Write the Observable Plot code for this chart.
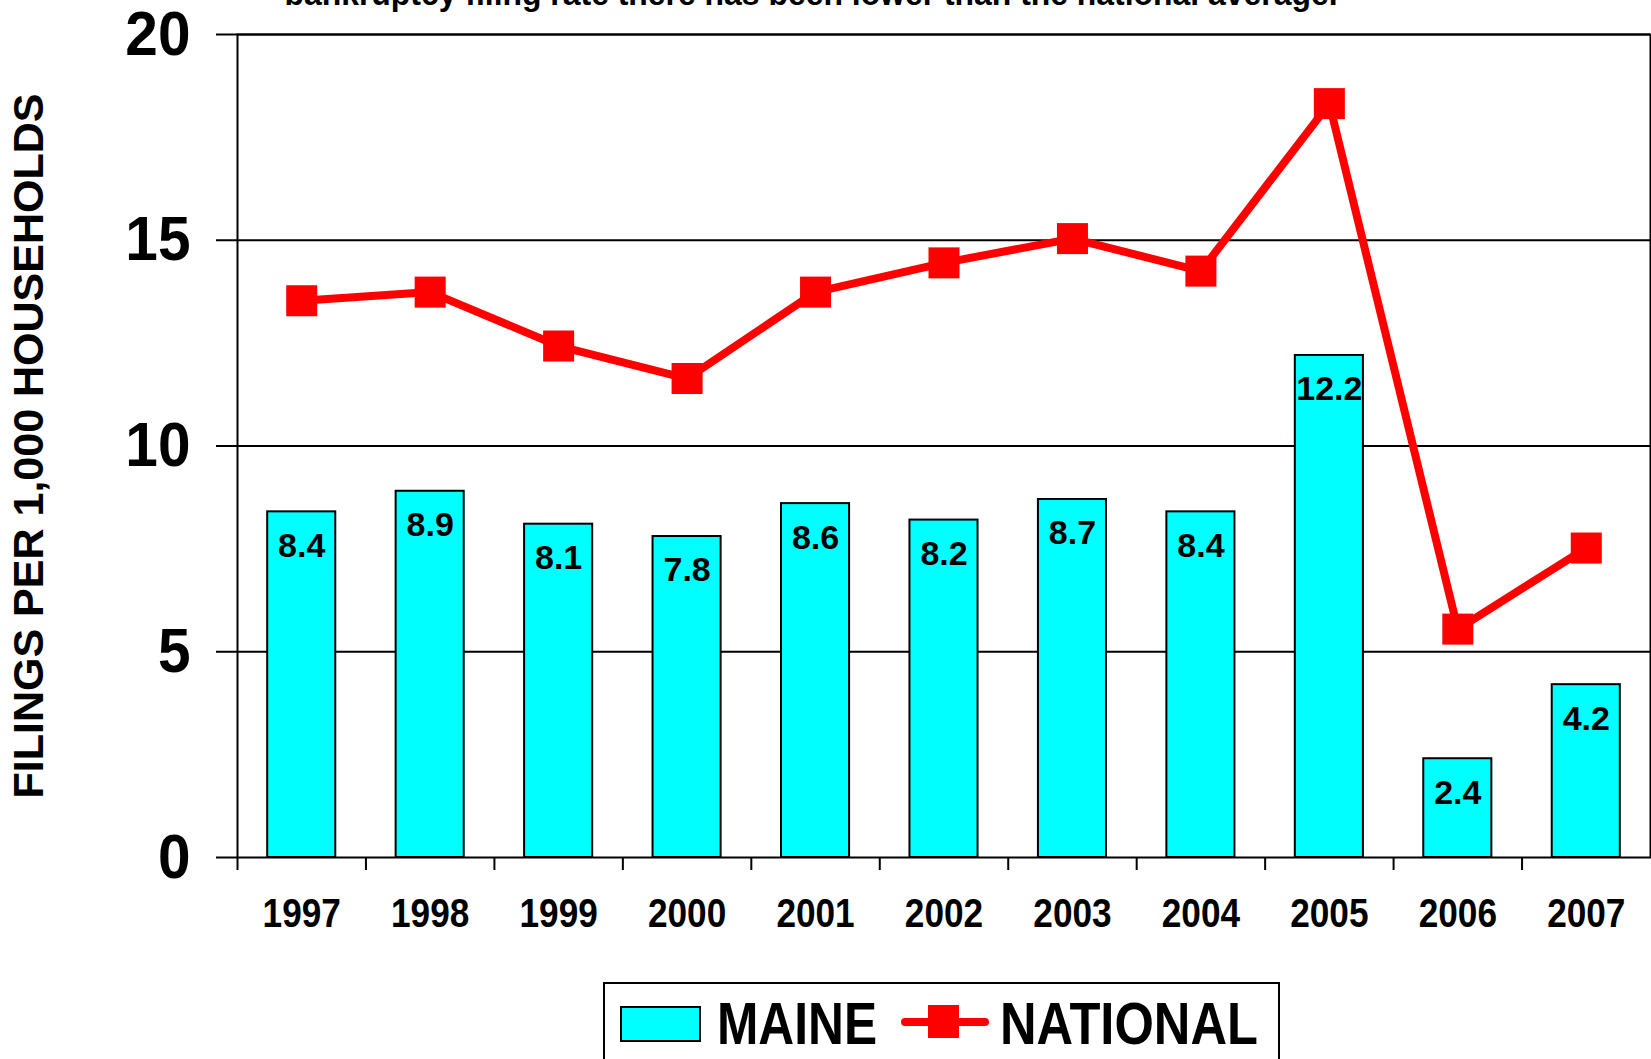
<!DOCTYPE html>
<html>
<head>
<meta charset="utf-8">
<script src="https://cdn.jsdelivr.net/npm/d3@7"></script>
<script src="https://cdn.jsdelivr.net/npm/@observablehq/plot@0.6"></script>
<style>
  html, body { margin: 0; padding: 0; background: #fff; overflow: hidden; width: 1651px; height: 1059px; position: relative; }
  #chart { position: absolute; left: 0; top: 0; }
  #legend { position: absolute; left: 603px; top: 982px; overflow: visible; }
</style>
</head>
<body>
<div id="chart"></div>
<svg id="legend" width="678" height="95"></svg>
<script>
// ---- data ----
const years = ["1997", "1998", "1999", "2000", "2001", "2002", "2003", "2004", "2005", "2006", "2007"];
const maine = [8.4, 8.9, 8.1, 7.8, 8.6, 8.2, 8.7, 8.4, 12.2, 2.4, 4.2];
const national = [13.53, 13.74, 12.43, 11.64, 13.74, 14.45, 15.04, 14.25, 18.32, 5.55, 7.52];
const yTicks = [0, 5, 10, 15, 20];
const gridValues = [5, 10, 15, 20];
const seriesNames = ["MAINE", "NATIONAL"];
const yTitle = "FILINGS PER 1,000 HOUSEHOLDS";
const topNote = "bankruptcy filing rate there has been lower than the national average.";

const CYAN = "#00FFFF", RED = "#FF0000";
const FONT = "'Liberation Sans', Arial, Helvetica, sans-serif";

const rows = years.map((y, i) => ({year: y, maine: maine[i], national: national[i]}));

const W = 1651, H = 975, ML = 237, MR = 1, MT = 34, MB = 118;
const step = (W - ML - MR) / years.length;

const plot = Plot.plot({
  width: W, height: H,
  marginTop: MT, marginBottom: MB, marginLeft: ML, marginRight: MR,
  style: {fontFamily: FONT, fontWeight: "bold", background: "white", color: "black", overflow: "visible"},
  x: {domain: years, paddingInner: 0.47, paddingOuter: 0.235, round: false, axis: null},
  y: {domain: [0, 20], axis: null},
  marks: [
    Plot.ruleY(gridValues, {stroke: "black", strokeWidth: 2}),
    Plot.barY(rows, {x: "year", y: "maine", fill: CYAN, stroke: "black", strokeWidth: 2}),
    Plot.line(rows, {x: "year", y: "national", stroke: RED, strokeWidth: 8}),
    Plot.dot(rows, {x: "year", y: "national", symbol: "square", r: 17.5, fill: RED, stroke: "none"}),
    Plot.text(rows, {x: "year", y: "maine", text: d => d.maine.toFixed(1), dy: 34, fontSize: 34, fill: "black"}),
    Plot.frame({stroke: "black", strokeWidth: 2}),
    Plot.axisY({ticks: yTicks, tickSize: 21, tickPadding: 26, fontSize: 63, strokeWidth: 2, stroke: "black", tickFormat: d => String(d), label: null}),
    Plot.axisX({tickSize: 13, dx: -step / 2, strokeWidth: 2, stroke: "black", tickFormat: () => "", label: null}),
    Plot.axisX({tickSize: 0, tickPadding: 41, fontSize: 40, label: null}),
    Plot.text([yTitle], {frameAnchor: "left", textAnchor: "middle", lineAnchor: "middle", rotate: -90, dx: -208, fontSize: 43}),
    Plot.text([topNote], {frameAnchor: "top-left", textAnchor: "start", lineAnchor: "bottom", dx: 47, dy: -30, fontSize: 33})
  ]
});
document.getElementById("chart").appendChild(plot);

// condense some texts horizontally (the reference uses a narrower face)
function condense(selector, k) {
  plot.querySelectorAll(selector).forEach(t => {
    const x = parseFloat(t.getAttribute("x"));
    if (!isNaN(x) && x !== 0) t.setAttribute("x", x / k);
    t.setAttribute("transform", (t.getAttribute("transform") || "") + ` scale(${k},1)`);
  });
}
condense('[aria-label="x-axis tick label"] text', 0.88);
condense('[aria-label="y-axis tick label"] text', 0.93);
plot.querySelectorAll("text").forEach(t => {
  if (t.textContent === topNote) {
    t.setAttribute("textLength", 1053);
    t.setAttribute("lengthAdjust", "spacingAndGlyphs");
  }
});

// ---- legend ----
const lg = d3.select("#legend");
lg.append("rect").attr("x", 1).attr("y", 1).attr("width", 675).attr("height", 100)
  .attr("fill", "white").attr("stroke", "black").attr("stroke-width", 2);
lg.append("rect").attr("x", 18).attr("y", 25).attr("width", 79).attr("height", 34)
  .attr("fill", CYAN).attr("stroke", "black").attr("stroke-width", 2);
lg.append("text").attr("x", 114).attr("y", 62).text(seriesNames[0])
  .attr("font-family", FONT).attr("font-weight", "bold").attr("font-size", 59)
  .attr("textLength", 160).attr("lengthAdjust", "spacingAndGlyphs");
lg.append("line").attr("x1", 302).attr("x2", 382).attr("y1", 40).attr("y2", 40)
  .attr("stroke", RED).attr("stroke-width", 8).attr("stroke-linecap", "round");
lg.append("rect").attr("x", 325).attr("y", 23).attr("width", 31).attr("height", 33).attr("fill", RED);
lg.append("text").attr("x", 397).attr("y", 62).text(seriesNames[1])
  .attr("font-family", FONT).attr("font-weight", "bold").attr("font-size", 59)
  .attr("textLength", 258).attr("lengthAdjust", "spacingAndGlyphs");
</script>
</body>
</html>
